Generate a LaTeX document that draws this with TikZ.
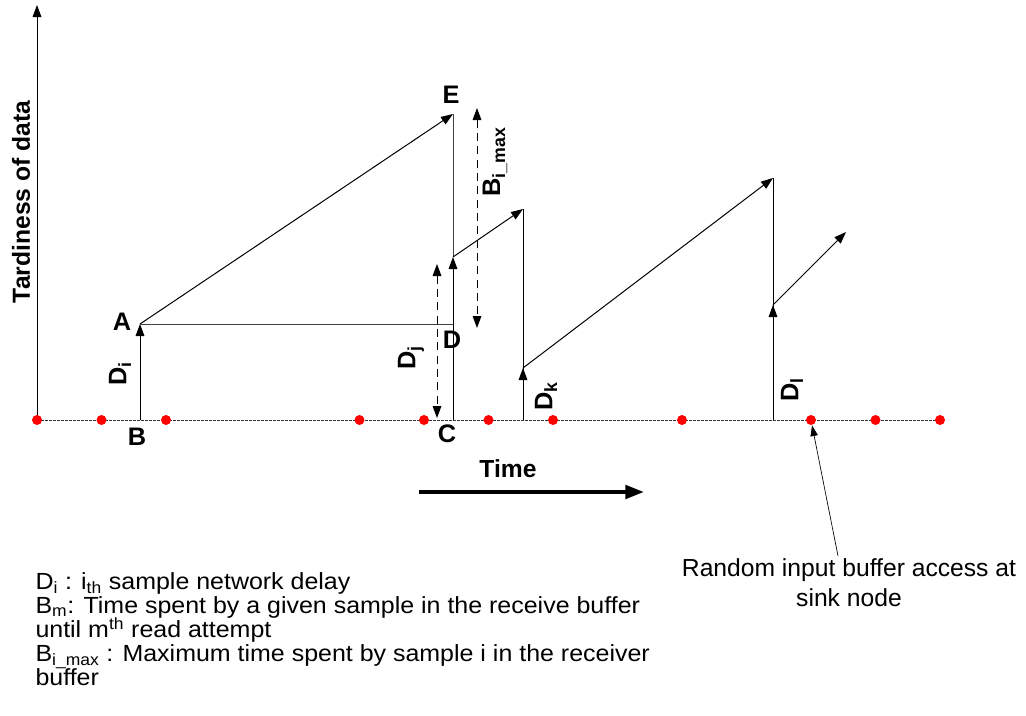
\documentclass[tikz,border=0pt]{standalone}
\usepackage{fontspec}
\setmainfont{Liberation Sans}
\newfontfamily\legendface[FakeStretch=1.07]{Liberation Sans}
\usetikzlibrary{arrows.meta, positioning}

\newcommand{\legendfont}{\legendface\fontsize{17.5}{18}\selectfont\lineskiplimit=-20pt\relax}

\begin{document}
\begin{tikzpicture}[x=0.75pt, y=-0.75pt, line width=0.75pt,
    >={Triangle[length=9pt, width=6.5pt]},
    rdot/.style={circle, fill=red, inner sep=0pt, minimum size=7.5pt},
    ptlbl/.style={font=\fontsize{19}{22}\selectfont\bfseries, inner sep=0pt},
    dlbl/.style={font=\fontsize{19}{22}\selectfont\bfseries, inner sep=0pt, rotate=90},
    gap/.style={dashed, dash pattern=on 6pt off 4pt}]
  \useasboundingbox (0,0) rectangle (1026,715);

  % axes
  \coordinate (O) at (37,420);
  \coordinate (ytop) at (37,5);
  \coordinate (xend) at (940,420);
  \draw[->] (O) -- (ytop);
  \draw[black!80, dash pattern=on 2pt off 1pt] (O) -- (xend);
  \node[font=\fontsize{18.5}{22}\selectfont\bfseries, rotate=90] (ylab) at (21,202) {Tardiness of data};

  % sample points
  \coordinate (B) at (140,420);
  \coordinate (A) at (140,324);
  \coordinate (C) at (453,420);
  \coordinate (D) at (453,324);
  \coordinate (E) at (453,114);
  \coordinate (Jlow) at (453,257);
  \coordinate (Jtop) at (523,209);
  \coordinate (Kbase) at (523,420);
  \coordinate (Klow) at (523,368);
  \coordinate (Ktop) at (773,178);
  \coordinate (Lbase) at (773,420);
  \coordinate (Llow) at (773,305);
  \coordinate (Lend) at (846,232);

  \draw[->] (B) -- (A);
  \draw[->] (A) -- (E);
  \draw[black!75] (A) -- (D);
  \draw[black!75] (E) -- (Jlow);
  \draw[->] (C) -- (Jlow);
  \draw[->] (Jlow) -- (Jtop);
  \draw (Jtop) -- (Kbase);
  \draw[->] (Kbase) -- (Klow);
  \draw[->] (Klow) -- (Ktop);
  \draw (Ktop) -- (Lbase);
  \draw[->] (Lbase) -- (Llow);
  \draw[->] (Llow) -- (Lend);

  % dashed spans
  \coordinate (dj1) at (437,264);
  \coordinate (dj2) at (437,418);
  \coordinate (bm1) at (477,108);
  \coordinate (bm2) at (477,328);
  \draw[<->, gap] (dj1) -- (dj2);
  \draw[<->, gap] (bm1) -- (bm2);

  % read attempts
  \foreach \i in {0,1,2,5,6,7,8,10,12,13,14}
    \node[rdot] (r\i) at (37+64.5*\i,420) {};

  % labels
  \node[ptlbl] (lA) at (122,322) {A};
  \node[ptlbl] (lB) at (137,437) {B};
  \node[ptlbl] (lC) at (447,434) {C};
  \node[ptlbl] (lD) at (452,340) {D};
  \node[ptlbl] (lE) at (451,95) {E};
  \node[dlbl] (lDi) at (120,374) {D\textsubscript{i}};
  \node[dlbl] (lDj) at (411,358) {D\textsubscript{j}};
  \node[dlbl] (lDk) at (546,396) {D\textsubscript{k}};
  \node[dlbl] (lDl) at (792,390) {D\textsubscript{l}};
  \node[dlbl] (lBm) at (495,162) {B\textsubscript{i\_max}};

  % time direction
  \node[font=\fontsize{18.5}{22}\selectfont\bfseries] (tlab) at (508,469) {Time};
  \coordinate (t1) at (419,492);
  \coordinate (t2) at (644,492);
  \draw[-{Triangle[length=14pt, width=10pt]}, line width=3pt] (t1) -- (t2);

  % annotation
  \node[font=\fontsize{18.5}{22.5}\selectfont, align=center] (note) at (849,583)
    {Random input buffer access at\\sink node};
  \coordinate (nt) at (838,556);
  \draw[-{Triangle[length=8pt, width=5.5pt]}, line width=0.5pt] (nt) -- (r12);

  % legend
  \node[font=\legendfont, align=left, anchor=north west, inner sep=0pt] (legend) at (35,572)
    {D\textsubscript{i} : i\textsubscript{th} sample network delay\\
     B\textsubscript{m}: Time spent by a given sample in the receive buffer\\
     until m\textsuperscript{th} read attempt\\
     B\textsubscript{i\_max} : Maximum time spent by sample i in the receiver\\
     buffer};
\end{tikzpicture}
\end{document}
